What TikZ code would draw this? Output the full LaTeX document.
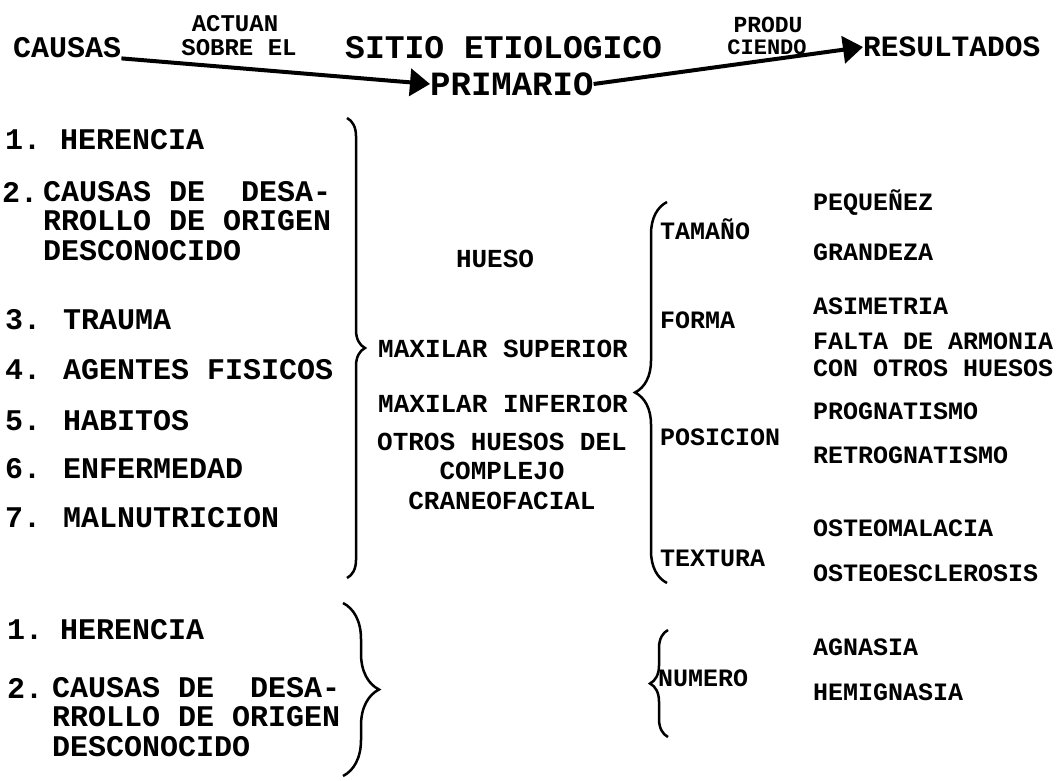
\documentclass[tikz,border=0pt]{standalone}
\usepackage{fontspec}
\usepackage{tikz}
\usetikzlibrary{positioning,arrows.meta,decorations.pathreplacing}
\newfontfamily\typewriterfont{Liberation Mono}

\begin{document}
\begin{tikzpicture}[
    x=1pt, y=-1pt,
    word/.style={inner sep=0pt, font=\typewriterfont\bfseries\fontsize{#1}{#1}\selectfont},
    cause/.style={anchor=west, inner sep=0pt, align=left,
        font=\typewriterfont\bfseries\fontsize{30}{29.5}\selectfont},
    bone/.style={inner sep=0pt, align=center,
        font=\typewriterfont\bfseries\fontsize{26}{29.5}\selectfont},
    result/.style={anchor=west, inner sep=0pt, align=left,
        font=\typewriterfont\bfseries\fontsize{25}{27}\selectfont},
    arrow/.style={-{Triangle[length=20pt,width=27pt]}, line width=4pt},
    curly/.style={decorate, decoration={brace, amplitude=#1}, line width=2.5pt}
]
    \useasboundingbox (0,0) rectangle (1059,780);

    % top line
    \node[word=24] (actuan) at (235,24) {ACTUAN};
    \node[word=30, anchor=west] (causas) at (13,48) {CAUSAS};
    \node[word=24] (sobre) at (239,48) {SOBRE EL};
    \node[word=33, anchor=west] (sitio) at (345,48) {SITIO ETIOLOGICO};
    \node[word=34, anchor=west] (primario) at (430,84) {PRIMARIO};
    \node[word=23] (produ) at (768,25) {PRODU};
    \node[word=22] (ciendo) at (767,47) {CIENDO};
    \node[word=29.5, anchor=west] (resultados) at (863,47) {RESULTADOS};

    \draw[arrow] (causas.south east) -- (primario.west);
    \draw[arrow] (primario.east) -- (resultados.west);

    % causes
    \node[cause] (n1) at (5,140) {1.};
    \node[cause] (herencia) at (60,140) {HERENCIA};
    \node[cause] (n2) at (2,192) {2.};
    \node[cause] (desarrollo) at (43,221) {CAUSAS DE~~DESA-\\RROLLO DE ORIGEN\\DESCONOCIDO};
    \node[cause] (n3) at (5,320) {3.};
    \node[cause] (trauma) at (63,320) {TRAUMA};
    \node[cause] (n4) at (5,370) {4.};
    \node[cause] (agentes) at (63,370) {AGENTES FISICOS};
    \node[cause] (n5) at (5,421) {5.};
    \node[cause] (habitos) at (63,421) {HABITOS};
    \node[cause] (n6) at (5,469) {6.};
    \node[cause] (enfermedad) at (63,469) {ENFERMEDAD};
    \node[cause] (n7) at (5,518) {7.};
    \node[cause] (malnutricion) at (63,518) {MALNUTRICION};

    \node[cause] (m1) at (7,630) {1.};
    \node[cause] (herencia2) at (60,630) {HERENCIA};
    \node[cause] (m2) at (7,688) {2.};
    \node[cause] (desarrollo2) at (52,717) {CAUSAS DE~~DESA-\\RROLLO DE ORIGEN\\DESCONOCIDO};

    % bones
    \node[bone] (hueso) at (495,259) {HUESO};
    \node[bone, anchor=west] (superior) at (378,349) {MAXILAR SUPERIOR};
    \node[bone, anchor=west] (inferior) at (378,404) {MAXILAR INFERIOR};
    \node[bone] (otros) at (502,471) {OTROS HUESOS DEL\\COMPLEJO\\CRANEOFACIAL};

    % results
    \node[result] (tamano) at (660,229) {TAMAÑO};
    \node[result] (forma) at (660,320) {FORMA};
    \node[result] (posicion) at (660,437) {POSICION};
    \node[result] (textura) at (660,558) {TEXTURA};
    \node[result] (numero) at (658,678) {NUMERO};

    \node[result] (pequenez) at (813,203) {PEQUEÑEZ};
    \node[result] (grandeza) at (813,252) {GRANDEZA};
    \node[result] (asimetria) at (813,306) {ASIMETRIA};
    \node[result] (armonia) at (813,355) {FALTA DE ARMONIA\\CON OTROS HUESOS};
    \node[result] (prognatismo) at (813,411) {PROGNATISMO};
    \node[result] (retrognatismo) at (813,455) {RETROGNATISMO};
    \node[result] (osteomalacia) at (813,528) {OSTEOMALACIA};
    \node[result] (osteoesclerosis) at (813,573) {OSTEOESCLEROSIS};
    \node[result] (agnasia) at (813,647) {AGNASIA};
    \node[result] (hemignasia) at (813,692) {HEMIGNASIA};

    % braces
    \draw[curly=18pt] (347,118) -- (347,578);
    \draw[curly=32pt] (667,583) -- (667,202);
    \draw[curly=36pt] (343,603) -- (343,776);
    \draw[curly=18pt] (668,737) -- (668,630);
\end{tikzpicture}
\end{document}
